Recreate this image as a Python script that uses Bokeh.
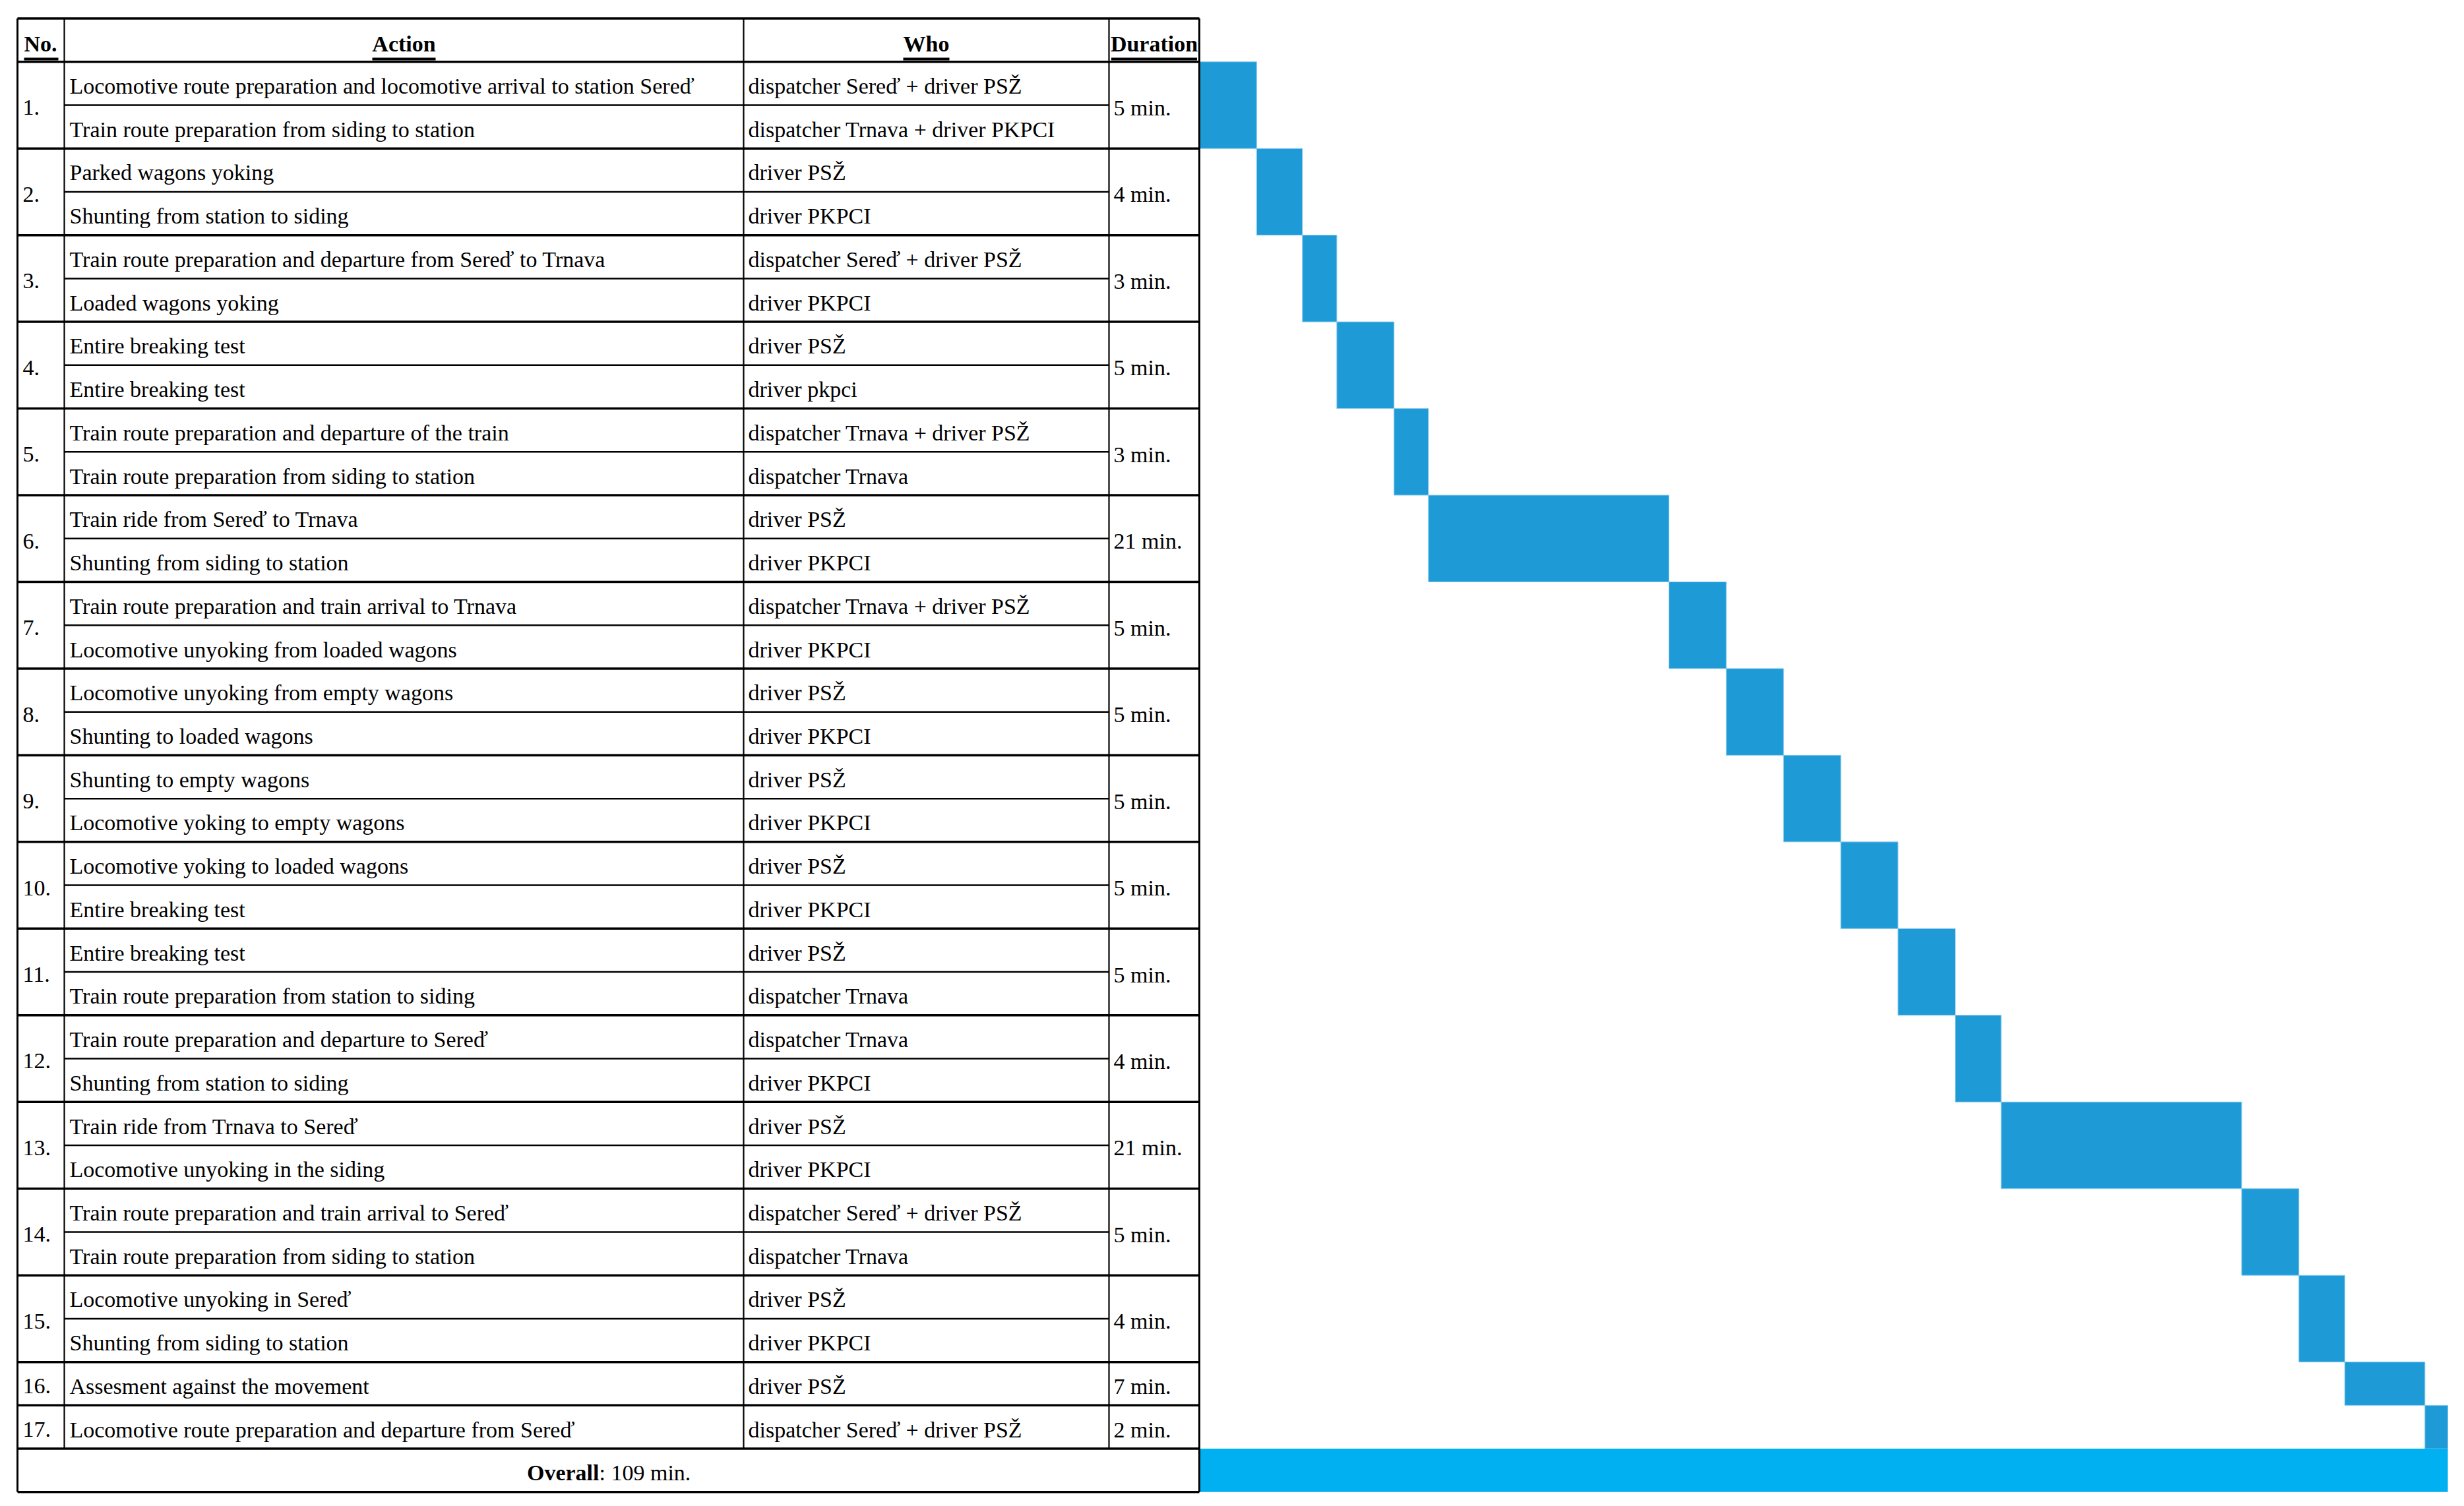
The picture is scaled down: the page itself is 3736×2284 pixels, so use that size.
import numpy as np
from bokeh.plotting import figure
from bokeh.models import Range1d, ColumnDataSource
from bokeh.core.properties import value
from bokeh.embed import file_html
from bokeh.resources import INLINE

# ---------------- data ----------------
step_numbers = ["1.", "2.", "3.", "4.", "5.", "6.", "7.", "8.", "9.", "10.",
                "11.", "12.", "13.", "14.", "15.", "16.", "17."]

actions_first = [
    "Locomotive route preparation and locomotive arrival to station Sereď",
    "Parked wagons yoking",
    "Train route preparation and departure from Sereď to Trnava",
    "Entire breaking test",
    "Train route preparation and departure of the train",
    "Train ride from Sereď to Trnava",
    "Train route preparation and train arrival to Trnava",
    "Locomotive unyoking from empty wagons",
    "Shunting to empty wagons",
    "Locomotive yoking to loaded wagons",
    "Entire breaking test",
    "Train route preparation and departure to Sereď",
    "Train ride from Trnava to Sereď",
    "Train route preparation and train arrival to Sereď",
    "Locomotive unyoking in Sereď",
    "Assesment against the movement",
    "Locomotive route preparation and departure from Sereď",
]
actions_second = [
    "Train route preparation from siding to station",
    "Shunting from station to siding",
    "Loaded wagons yoking",
    "Entire breaking test",
    "Train route preparation from siding to station",
    "Shunting from siding to station",
    "Locomotive unyoking from loaded wagons",
    "Shunting to loaded wagons",
    "Locomotive yoking to empty wagons",
    "Entire breaking test",
    "Train route preparation from station to siding",
    "Shunting from station to siding",
    "Locomotive unyoking in the siding",
    "Train route preparation from siding to station",
    "Shunting from siding to station",
    None,
    None,
]
who_first = [
    "dispatcher Sereď + driver PSŽ", "driver PSŽ", "dispatcher Sereď + driver PSŽ",
    "driver PSŽ", "dispatcher Trnava + driver PSŽ", "driver PSŽ",
    "dispatcher Trnava + driver PSŽ", "driver PSŽ", "driver PSŽ", "driver PSŽ",
    "driver PSŽ", "dispatcher Trnava", "driver PSŽ", "dispatcher Sereď + driver PSŽ",
    "driver PSŽ", "driver PSŽ", "dispatcher Sereď + driver PSŽ",
]
who_second = [
    "dispatcher Trnava + driver PKPCI", "driver PKPCI", "driver PKPCI", "driver pkpci",
    "dispatcher Trnava", "driver PKPCI", "driver PKPCI", "driver PKPCI", "driver PKPCI",
    "driver PKPCI", "dispatcher Trnava", "driver PKPCI", "driver PKPCI",
    "dispatcher Trnava", "driver PKPCI", None, None,
]
duration_min = [5, 4, 3, 5, 3, 21, 5, 5, 5, 5, 5, 4, 21, 5, 4, 7, 2]

header_labels = ["No.", "Action", "Who", "Duration"]
overall_word = "Overall"

# ---------------- layout / style ----------------
PAGE = 0                 # bokeh's page template has no body margin
FIG_W, FIG_H = 3720, 2268
ROW_TOP = 27.5           # page px of table top
ROW_H = 65.73            # page px per row
X_LEFT, X_NO, X_ACTION, X_WHO, X_TABLE_R, X_GANTT_R = 26, 97, 1127, 1681, 1818, 3711
FONT = value("Liberation Serif")
FS = value("34px")
BASE = 0.56              # baseline offset inside a row (rows)
BAR_COLOR = "#1E9BD7"
BAR_EDGE = "#8CCBEB"
TOTAL_COLOR = "#00B0F0"

sizes = np.array([2 if a is not None else 1 for a in actions_second])
group_top = 1 + np.concatenate([[0], np.cumsum(sizes)[:-1]])
body_rows = int(sizes.sum())
overall_row = 1 + body_rows
n_rows = overall_row + 1
dur = np.array(duration_min)
starts = np.concatenate([[0], np.cumsum(dur)[:-1]])
ends = starts + dur
total = int(dur.sum())

k = (X_GANTT_R - X_TABLE_R) / total
y_bottom = (PAGE + FIG_H - ROW_TOP) / ROW_H
y_top = (PAGE - ROW_TOP) / ROW_H

p = figure(width=FIG_W, height=FIG_H, output_backend="svg", toolbar_location=None,
           x_range=Range1d(PAGE, PAGE + FIG_W), y_range=Range1d(start=y_bottom, end=y_top),
           x_axis_location=None, y_axis_location=None, min_border=0,
           background_fill_color="white", border_fill_color="white")
p.grid.visible = False
p.outline_line_color = None
p.extra_x_ranges = {"min": Range1d((PAGE - X_TABLE_R) / k, (PAGE + FIG_W - X_TABLE_R) / k)}

# ---------------- gantt bars ----------------
bars = ColumnDataSource(dict(left=starts, right=ends, top=group_top, bottom=group_top + sizes))
p.quad(left="left", right="right", top="top", bottom="bottom", source=bars,
       x_range_name="min", fill_color=BAR_COLOR, line_color=BAR_EDGE, line_width=1)
p.quad(left=[0], right=[total], top=[overall_row], bottom=[n_rows],
       x_range_name="min", fill_color=TOTAL_COLOR, line_color=None)

# ---------------- grid lines ----------------
h_rows = [0, 1] + list(group_top + sizes) + [n_rows]
p.segment(x0=[X_LEFT] * len(h_rows), x1=[X_TABLE_R] * len(h_rows), y0=h_rows, y1=h_rows,
          line_color="black", line_width=3.5)
sub = group_top[sizes == 2] + 1
p.segment(x0=[X_NO] * len(sub), x1=[X_WHO] * len(sub), y0=sub, y1=sub,
          line_color="black", line_width=2.5)
p.segment(x0=[X_LEFT, X_TABLE_R], x1=[X_LEFT, X_TABLE_R], y0=[0, 0], y1=[n_rows, n_rows],
          line_color="black", line_width=3)
inner = [X_NO, X_ACTION, X_WHO]
p.segment(x0=inner, x1=inner, y0=[0] * 3, y1=[overall_row] * 3,
          line_color="black", line_width=2.2)

# ---------------- header ----------------
hx = [36, (X_NO + X_ACTION) / 2, (X_ACTION + X_WHO) / 2, (X_WHO + X_TABLE_R) / 2]
halign = ["left", "center", "center", "center"]
p.text(x=hx, y=[BASE + 0.02] * 4, text=header_labels, text_font=FONT, text_font_size=FS,
       text_font_style="bold", text_align=halign, text_baseline="alphabetic", text_color="black")
uw = [52, 96, 70, 130]
ux0 = [hx[0], hx[1] - uw[1] / 2, hx[2] - uw[2] / 2, hx[3] - uw[3] / 2]
ux1 = [a + w for a, w in zip(ux0, uw)]
uy = (89 - ROW_TOP) / ROW_H
p.segment(x0=ux0, x1=ux1, y0=[uy] * 4, y1=[uy] * 4, line_color="black", line_width=4)

# ---------------- body text ----------------
act_txt, act_y, who_txt, who_y = [], [], [], []
for i in range(len(step_numbers)):
    r = group_top[i]
    act_txt.append(actions_first[i]); act_y.append(r + BASE)
    who_txt.append(who_first[i]); who_y.append(r + BASE)
    if actions_second[i] is not None:
        act_txt.append(actions_second[i]); act_y.append(r + 1 + BASE)
        who_txt.append(who_second[i]); who_y.append(r + 1 + BASE)

p.text(x=[105] * len(act_txt), y=act_y, text=act_txt, text_font=FONT, text_font_size=FS,
       text_baseline="alphabetic", text_color="black")
p.text(x=[1134] * len(who_txt), y=who_y, text=who_txt, text_font=FONT, text_font_size=FS,
       text_baseline="alphabetic", text_color="black")

mid_y = group_top + sizes / 2 + (BASE - 0.5)
p.text(x=[34] * len(step_numbers), y=mid_y, text=step_numbers, text_font=FONT,
       text_font_size=FS, text_baseline="alphabetic", text_color="black")
dur_labels = [f"{d} min." for d in duration_min]
p.text(x=[1688] * len(dur_labels), y=mid_y, text=dur_labels, text_font=FONT,
       text_font_size=FS, text_baseline="alphabetic", text_color="black")

# ---------------- overall row ----------------
junction = 908
p.text(x=[junction], y=[overall_row + BASE], text=[overall_word], text_font=FONT,
       text_font_size=FS, text_font_style="bold", text_align="right",
       text_baseline="alphabetic", text_color="black")
p.text(x=[junction], y=[overall_row + BASE], text=[f": {total} min."], text_font=FONT,
       text_font_size=FS, text_align="left", text_baseline="alphabetic", text_color="black")

open("out.html", "w").write(file_html(p, INLINE))
